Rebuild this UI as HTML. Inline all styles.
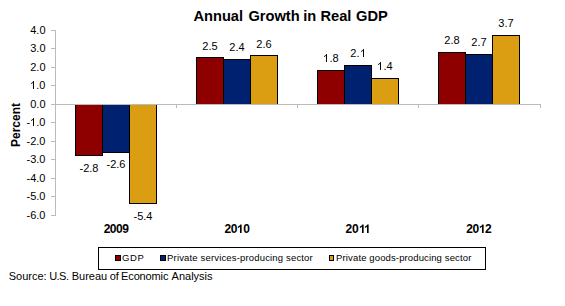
<!DOCTYPE html>
<html><head><meta charset="utf-8"><style>
html,body{margin:0;padding:0;background:#fff;width:565px;height:306px;overflow:hidden}
svg{position:absolute;left:0;top:0}
text{font-family:"Liberation Sans",sans-serif;fill:#000}
.b{font-weight:bold}
.one{fill:transparent}</style></head><body>
<svg width="565" height="306" viewBox="0 0 565 306" shape-rendering="crispEdges">
<rect x="75" y="104" width="28" height="52" fill="#000"/>
<rect x="76" y="105" width="26" height="50" fill="#8e0000"/>
<rect x="102" y="104" width="28" height="49" fill="#000"/>
<rect x="103" y="105" width="26" height="47" fill="#00216f"/>
<rect x="129" y="104" width="28" height="100" fill="#000"/>
<rect x="130" y="105" width="26" height="98" fill="#db9d12"/>
<rect x="196" y="57" width="28" height="48" fill="#000"/>
<rect x="197" y="58" width="26" height="46" fill="#8e0000"/>
<rect x="223" y="59" width="28" height="46" fill="#000"/>
<rect x="224" y="60" width="26" height="44" fill="#00216f"/>
<rect x="250" y="55" width="28" height="50" fill="#000"/>
<rect x="251" y="56" width="26" height="48" fill="#db9d12"/>
<rect x="317" y="70" width="28" height="35" fill="#000"/>
<rect x="318" y="71" width="26" height="33" fill="#8e0000"/>
<rect x="344" y="65" width="28" height="40" fill="#000"/>
<rect x="345" y="66" width="26" height="38" fill="#00216f"/>
<rect x="371" y="78" width="28" height="27" fill="#000"/>
<rect x="372" y="79" width="26" height="25" fill="#db9d12"/>
<rect x="438" y="52" width="28" height="53" fill="#000"/>
<rect x="439" y="53" width="26" height="51" fill="#8e0000"/>
<rect x="465" y="54" width="28" height="51" fill="#000"/>
<rect x="466" y="55" width="26" height="49" fill="#00216f"/>
<rect x="492" y="35" width="28" height="70" fill="#000"/>
<rect x="493" y="36" width="26" height="68" fill="#db9d12"/>
<rect x="55" y="30" width="1" height="186" fill="#bbbbbb"/>
<rect x="51" y="30" width="4" height="1" fill="#bbbbbb"/>
<rect x="51" y="48" width="4" height="1" fill="#bbbbbb"/>
<rect x="51" y="67" width="4" height="1" fill="#bbbbbb"/>
<rect x="51" y="85" width="4" height="1" fill="#bbbbbb"/>
<rect x="51" y="104" width="4" height="1" fill="#bbbbbb"/>
<rect x="51" y="122" width="4" height="1" fill="#bbbbbb"/>
<rect x="51" y="141" width="4" height="1" fill="#bbbbbb"/>
<rect x="51" y="159" width="4" height="1" fill="#bbbbbb"/>
<rect x="51" y="178" width="4" height="1" fill="#bbbbbb"/>
<rect x="51" y="196" width="4" height="1" fill="#bbbbbb"/>
<rect x="51" y="215" width="4" height="1" fill="#bbbbbb"/>
<rect x="51" y="104" width="490" height="1" fill="#bbbbbb"/>
<rect x="55" y="104" width="1" height="4" fill="#bbbbbb"/>
<rect x="176" y="104" width="1" height="4" fill="#bbbbbb"/>
<rect x="297" y="104" width="1" height="4" fill="#bbbbbb"/>
<rect x="418" y="104" width="1" height="4" fill="#bbbbbb"/>
<rect x="540" y="104" width="1" height="4" fill="#bbbbbb"/>
<rect x="98" y="247" width="388" height="23" fill="#000"/>
<rect x="99" y="248" width="386" height="21" fill="#fff"/>
<rect x="115" y="255" width="6" height="6" fill="#000"/>
<rect x="116" y="256" width="4" height="4" fill="#8e0000"/>
<rect x="160" y="255" width="6" height="6" fill="#000"/>
<rect x="161" y="256" width="4" height="4" fill="#00216f"/>
<rect x="329" y="255" width="5" height="6" fill="#000"/>
<rect x="330" y="256" width="3" height="4" fill="#db9d12"/>
</svg>
<svg width="565" height="306" viewBox="0 0 565 306">
<text class="b" x="193.4" y="21" font-size="14.67">Annual</text>
<text class="b" x="248.4" y="21" font-size="14.67">Growth</text>
<text class="b" x="303.2" y="21" font-size="14.67">in</text>
<text class="b" x="320.4" y="21" font-size="14.67">Real</text>
<text class="b" x="356.0" y="21" font-size="14.67">GDP</text>
<text x="45.5" y="34" font-size="11" text-anchor="end">4.0</text>
<text x="45.5" y="52" font-size="11" text-anchor="end">3.0</text>
<text x="45.5" y="71" font-size="11" text-anchor="end">2.0</text>
<text x="45.5" y="89" font-size="11" text-anchor="end"><tspan class="one">1</tspan>.0</text>
<text x="45.5" y="108" font-size="11" text-anchor="end">0.0</text>
<text x="45.5" y="126" font-size="11" text-anchor="end">-<tspan class="one">1</tspan>.0</text>
<text x="45.5" y="145" font-size="11" text-anchor="end">-2.0</text>
<text x="45.5" y="163" font-size="11" text-anchor="end">-3.0</text>
<text x="45.5" y="182" font-size="11" text-anchor="end">-4.0</text>
<text x="45.5" y="200" font-size="11" text-anchor="end">-5.0</text>
<text x="45.5" y="219" font-size="11" text-anchor="end">-6.0</text>
<text class="b" transform="translate(20,147) rotate(-90)" font-size="12" textLength="44" lengthAdjust="spacing">Percent</text>
<text x="89" y="172" font-size="11" text-anchor="middle">-2.8</text>
<text x="116" y="168" font-size="11" text-anchor="middle">-2.6</text>
<text x="143" y="220" font-size="11" text-anchor="middle">-5.4</text>
<text class="b" x="116.3" y="233" font-size="12" text-anchor="middle" textLength="25.3" lengthAdjust="spacing">2009</text>
<text x="210" y="50" font-size="11" text-anchor="middle">2.5</text>
<text x="237" y="51" font-size="11" text-anchor="middle">2.4</text>
<text x="264" y="48" font-size="11" text-anchor="middle">2.6</text>
<text class="b" x="237.2" y="233" font-size="12" text-anchor="middle" textLength="25.3" lengthAdjust="spacing">20<tspan class="one">1</tspan>0</text>
<text x="331" y="62" font-size="11" text-anchor="middle"><tspan class="one">1</tspan>.8</text>
<text x="358" y="57" font-size="11" text-anchor="middle">2.<tspan class="one">1</tspan></text>
<text x="385" y="70" font-size="11" text-anchor="middle"><tspan class="one">1</tspan>.4</text>
<text class="b" x="358.1" y="233" font-size="12" text-anchor="middle" textLength="25.3" lengthAdjust="spacing">20<tspan class="one">1</tspan><tspan class="one">1</tspan></text>
<text x="452" y="44" font-size="11" text-anchor="middle">2.8</text>
<text x="479" y="46" font-size="11" text-anchor="middle">2.7</text>
<text x="506" y="27" font-size="11" text-anchor="middle">3.7</text>
<text class="b" x="479.0" y="233" font-size="12" text-anchor="middle" textLength="25.3" lengthAdjust="spacing">20<tspan class="one">1</tspan>2</text>
<text x="122.1" y="261" font-size="9.5" textLength="21.7" lengthAdjust="spacing">GDP</text>
<text x="167.1" y="261" font-size="9.5" textLength="145.6" lengthAdjust="spacing">Private services-producing sector</text>
<text x="336.1" y="261" font-size="9.5" textLength="135.2" lengthAdjust="spacing">Private goods-producing sector</text>
<text x="8.70" y="280" font-size="11">Source:</text>
<text x="49.15" y="280" font-size="11" textLength="19.8" lengthAdjust="spacing">U.S.</text>
<text x="71.70" y="280" font-size="11">Bureau</text>
<text x="109.74" y="280" font-size="11">of</text>
<text x="121.10" y="280" font-size="11" textLength="47.3" lengthAdjust="spacing">Economic</text>
<text x="171.58" y="280" font-size="11">Analysis</text>
<path transform="translate(29.869,89.00) scale(0.005371,-0.005371)" d="M763 0H583V1147Q518 1085 412.5 1023T223 930V1104Q374 1175 487 1276T647 1472H763Z"/>
<path transform="translate(29.869,126.00) scale(0.005371,-0.005371)" d="M763 0H583V1147Q518 1085 412.5 1023T223 930V1104Q374 1175 487 1276T647 1472H763Z"/>
<path transform="translate(236.701,233.00) scale(0.005859,-0.005859)" d="M844 0H563V1059Q409 915 200 846V1101Q310 1137 439 1237T616 1472H844Z"/>
<path transform="translate(322.869,62.00) scale(0.005371,-0.005371)" d="M763 0H583V1147Q518 1085 412.5 1023T223 930V1104Q374 1175 487 1276T647 1472H763Z"/>
<path transform="translate(359.869,57.00) scale(0.005371,-0.005371)" d="M763 0H583V1147Q518 1085 412.5 1023T223 930V1104Q374 1175 487 1276T647 1472H763Z"/>
<path transform="translate(376.869,70.00) scale(0.005371,-0.005371)" d="M763 0H583V1147Q518 1085 412.5 1023T223 930V1104Q374 1175 487 1276T647 1472H763Z"/>
<path transform="translate(358.701,233.00) scale(0.005859,-0.005859)" d="M844 0H563V1059Q409 915 200 846V1101Q310 1137 439 1237T616 1472H844Z"/>
<path transform="translate(363.701,233.00) scale(0.005859,-0.005859)" d="M844 0H563V1059Q409 915 200 846V1101Q310 1137 439 1237T616 1472H844Z"/>
<path transform="translate(478.701,233.00) scale(0.005859,-0.005859)" d="M844 0H563V1059Q409 915 200 846V1101Q310 1137 439 1237T616 1472H844Z"/>
</svg>
</body></html>
